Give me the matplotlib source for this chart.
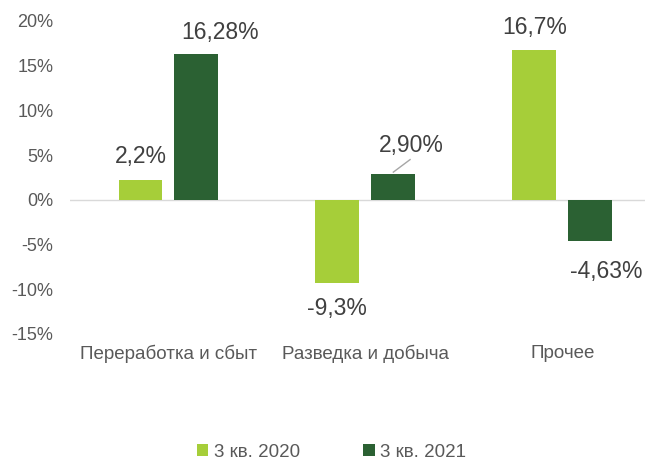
import numpy as np
import matplotlib.pyplot as plt

plt.rcParams['font.family'] = ['Liberation Sans', 'DejaVu Sans']

categories = ['Переработка и сбыт', 'Разведка и добыча', 'Прочее']
series_names = ['3 кв. 2020', '3 кв. 2021']
values_2020 = [2.2, -9.3, 16.7]
values_2021 = [16.28, 2.90, -4.63]
labels_2020 = ['2,2%', '-9,3%', '16,7%']
labels_2021 = ['16,28%', '2,90%', '-4,63%']

light = '#A6CE39'
dark = '#2B6133'
text_color = '#595959'

fig = plt.figure(figsize=(6.45, 4.61), dpi=100)
ax = fig.add_axes([0.1085, 0.2755, 0.8915, 0.679])

x = np.arange(len(categories))
width = 0.223
offset = 0.142
ax.bar(x - offset, values_2020, width, color=light, label=series_names[0], zorder=3)
ax.bar(x + offset, values_2021, width, color=dark, label=series_names[1], zorder=3)

ax.set_xlim(-0.5, 2.42)
ax.set_ylim(-15, 20)
ax.set_yticks(np.arange(-15, 21, 5))
ax.set_yticklabels([f'{v}%' for v in range(-15, 21, 5)])
ax.axhline(0, color='#D9D9D9', linewidth=1, zorder=2)

for s in ax.spines.values():
    s.set_visible(False)
ax.tick_params(axis='both', length=0, colors=text_color, labelsize=13)
ax.tick_params(axis='y', pad=12)
ax.set_xticks(x)
ax.set_xticklabels(categories, fontsize=13.5)
ax.tick_params(axis='x', pad=8)

lab_kw = dict(fontsize=16.5, color='#404040', ha='center', va='center')
# 2020 labels
for xi, v, t in zip(x, values_2020, labels_2020):
    dy = 2.6 if v >= 0 else -2.8
    ax.text(xi - offset, v + dy, t, **lab_kw)
# 2021 labels
ax.text(x[0] + offset + 0.12, values_2021[0] + 2.4, labels_2021[0], **lab_kw)
ax.text(x[1] + offset + 0.09, values_2021[1] + 3.2, labels_2021[1], **lab_kw)
ax.plot([x[1] + offset, x[1] + offset + 0.085], [values_2021[1] + 0.2, values_2021[1] + 1.6],
        color='#A6A6A6', linewidth=1, zorder=4)
ax.text(x[2] + offset + 0.08, values_2021[2] - 3.4, labels_2021[2], **lab_kw)

fig.legend(loc='center', bbox_to_anchor=(0.514, 0.0195), ncol=2, frameon=False,
           fontsize=13.5, labelcolor=text_color, handlelength=0.6, handleheight=0.6,
           handletextpad=0.3, columnspacing=3.4)

fig.savefig('out.png', dpi=100)
